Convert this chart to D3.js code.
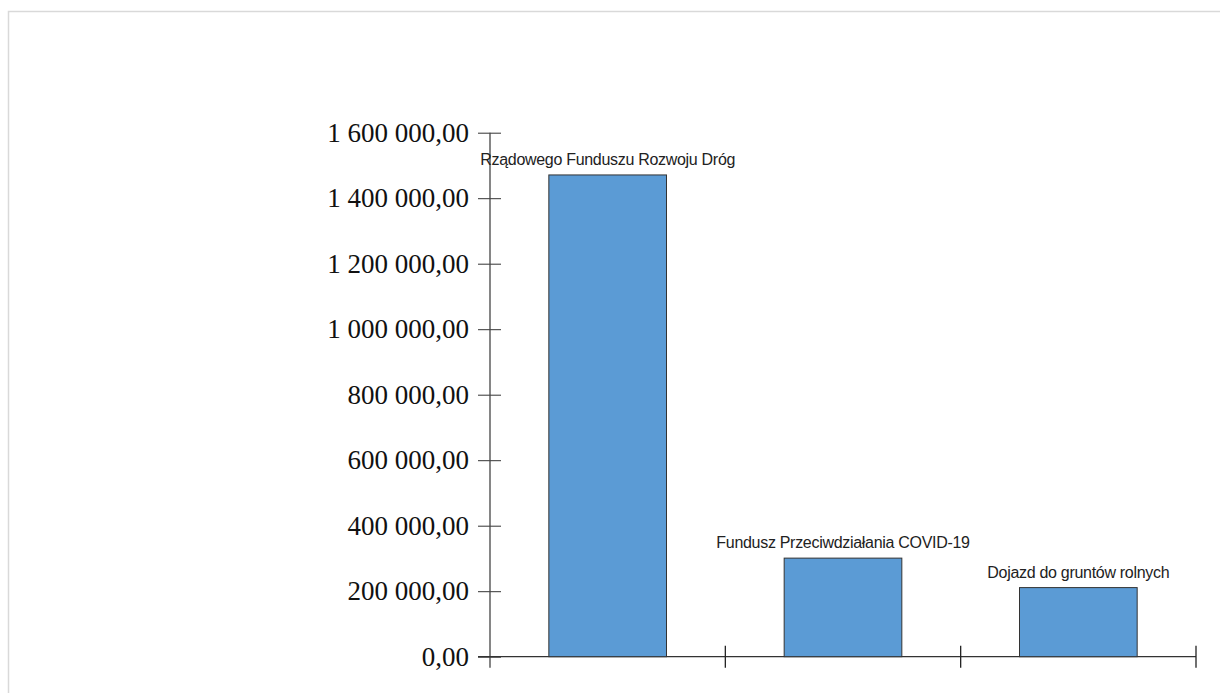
<!DOCTYPE html>
<html>
<head>
<meta charset="utf-8">
<script src="https://cdn.jsdelivr.net/npm/d3@7"></script>
<style>
  body { margin: 0; background: #fff; }
  svg { display: block; }
</style>
</head>
<body>
<script>
var categories = ["Rządowego Funduszu Rozwoju Dróg", "Fundusz Przeciwdziałania COVID-19", "Dojazd do gruntów rolnych"];
var values = [1471000, 301000, 211000];
var yTicks = [0, 200000, 400000, 600000, 800000, 1000000, 1200000, 1400000, 1600000];

var w = 1220;
var h = 693;

var svg = d3.select("body")
            .append("svg")
            .attr("width", w)
            .attr("height", h);

// light frame round the chart
svg.append("rect")
   .attr("x", 8.5)
   .attr("y", 11.5)
   .attr("width", w + 10)
   .attr("height", h + 10)
   .attr("fill", "none")
   .attr("stroke", "#d9d9d9")
   .attr("stroke-width", 1.5);

var x0 = 490, x1 = 1196;
var y0 = 656.7, y1 = 132.7;

var x = d3.scaleBand()
          .domain(categories)
          .range([x0, x1])
          .paddingInner(0.5)
          .paddingOuter(0.25);

var y = d3.scaleLinear()
          .domain([0, 1600000])
          .range([y0, y1]);

function fmt(d){
  var s = d3.format(",.2f")(d);
  return s.replace(/,/g, " ").replace(".", ",");
}

// y axis
var yAxis = d3.axisLeft(y)
              .tickValues(yTicks)
              .tickSizeInner(12)
              .tickSizeOuter(0)
              .tickPadding(9)
              .tickFormat(fmt);

var gy = svg.append("g")
            .attr("transform", "translate(" + x0 + ",0)")
            .call(yAxis);

gy.select(".domain").remove();
gy.selectAll(".tick line")
  .attr("x1", -12)
  .attr("x2", 11)
  .attr("stroke", "#333");
gy.selectAll(".tick text")
  .attr("font-family", "'Liberation Serif', 'Times New Roman', serif")
  .attr("font-size", 27)
  .attr("fill", "#111");

svg.append("line")
   .attr("x1", x0).attr("x2", x0)
   .attr("y1", y1).attr("y2", y0 + 11)
   .attr("stroke", "#444")
   .attr("stroke-width", 1.3);

// x axis line and category separators
svg.append("line")
   .attr("x1", x0 - 12).attr("x2", x1)
   .attr("y1", y0).attr("y2", y0)
   .attr("stroke", "#333")
   .attr("stroke-width", 1.3);

var step = x.step();
var seps = categories.map(function(d, i){ return x0 + (i + 1) * step; });

svg.selectAll(".sep")
   .data(seps)
   .enter()
   .append("line")
   .attr("class", "sep")
   .attr("x1", function(d){ return d; })
   .attr("x2", function(d){ return d; })
   .attr("y1", y0 - 11)
   .attr("y2", y0 + 11)
   .attr("stroke", "#222")
   .attr("stroke-width", 1.3);

// bars
svg.selectAll(".bar")
   .data(values)
   .enter()
   .append("rect")
   .attr("class", "bar")
   .attr("x", function(d, i){ return x(categories[i]); })
   .attr("y", function(d){ return y(d); })
   .attr("width", x.bandwidth())
   .attr("height", function(d){ return y0 - y(d); })
   .attr("fill", "#5b9bd5")
   .attr("stroke", "#333")
   .attr("stroke-width", 1);

// labels above bars
svg.selectAll(".lbl")
   .data(values)
   .enter()
   .append("text")
   .attr("class", "lbl")
   .attr("x", function(d, i){ return x(categories[i]) + x.bandwidth() / 2; })
   .attr("y", function(d){ return y(d) - 10; })
   .attr("text-anchor", "middle")
   .attr("font-family", "'Liberation Sans', Arial, sans-serif")
   .attr("font-size", 16)
   .attr("letter-spacing", -0.3)
   .attr("fill", "#222")
   .text(function(d, i){ return categories[i]; });
</script>
</body>
</html>
